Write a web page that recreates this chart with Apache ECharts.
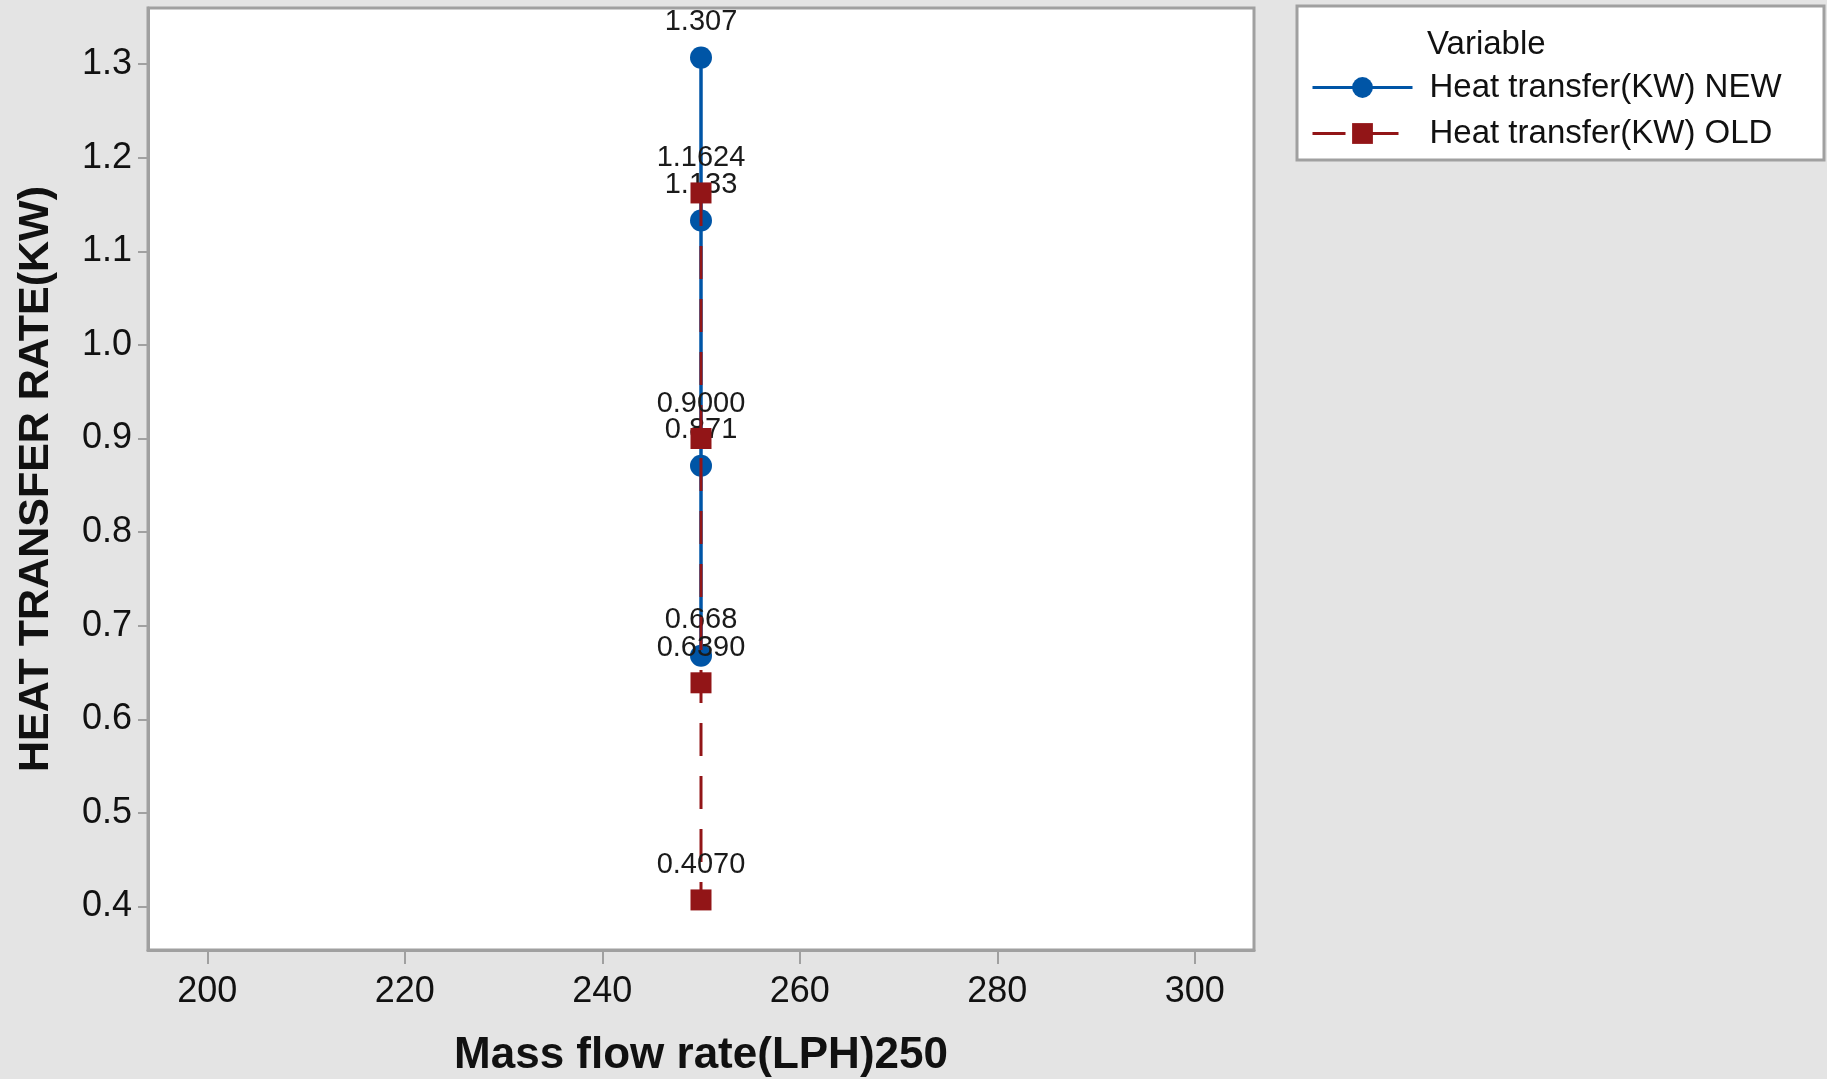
<!DOCTYPE html>
<html>
<head>
<meta charset="utf-8">
<script src="https://cdn.jsdelivr.net/npm/echarts@6/dist/echarts.min.js"></script>
<style>
  html, body { margin: 0; padding: 0; background: #e4e4e4; }
  #chart { width: 1827px; height: 1079px; }
</style>
</head>
<body>
<div id="chart"></div>
<script>
// Mass flow rate at which both runs were measured (LPH)
const flowRate = 250;
// Heat transfer rate, new setup (kW)
const newValues = [1.307, 1.133, 0.871, 0.668];
// Heat transfer rate, old setup (kW)
const oldValues = [1.1624, 0.9000, 0.6390, 0.4070];
// Axis tick positions
const xTicks = [200, 220, 240, 260, 280, 300];
const yTicks = [0.4, 0.5, 0.6, 0.7, 0.8, 0.9, 1.0, 1.1, 1.2, 1.3];
const seriesNames = ['Heat transfer(KW) NEW', 'Heat transfer(KW) OLD'];

const BLUE = '#0055a6';
const RED = '#921517';
const AXIS_GRAY = '#a0a0a0';
const FONT = 'Liberation Sans, Arial, sans-serif';

const chart = echarts.init(document.getElementById('chart'), null, { renderer: 'canvas' });

const labelBase = {
  show: true,
  position: 'top',
  distance: 10,
  color: '#1a1a1a',
  fontFamily: FONT,
  fontSize: 29
};

chart.setOption({
  backgroundColor: '#e4e4e4',
  animation: false,
  grid: {
    left: 148, top: 8, width: 1106, height: 942,
    outerBoundsMode: 'none',
    containLabel: false,
    show: true,
    backgroundColor: '#ffffff',
    borderColor: AXIS_GRAY,
    borderWidth: 3
  },
  graphic: [
    {
      type: 'rect',
      shape: { x: 1297, y: 6, width: 527, height: 154 },
      style: { fill: '#ffffff', stroke: AXIS_GRAY, lineWidth: 3 },
      z: 0
    },
    {
      type: 'text',
      left: 1427, top: 28,
      style: { text: 'Variable', fill: '#111', font: '33px ' + FONT },
      z: 1
    }
  ],
  legend: {
    orient: 'vertical',
    left: 1311, top: 71,
    padding: 0,
    itemWidth: 100,
    itemHeight: 26,
    itemGap: 13,
    data: seriesNames,
    lineStyle: { width: 3 },
    textStyle: { color: '#111', fontFamily: FONT, fontSize: 33, padding: [0, 0, 0, 12] }
  },
  xAxis: {
    type: 'value',
    min: 194, max: 306,
    name: 'Mass flow rate(LPH)250',
    nameLocation: 'middle',
    nameGap: 84,
    nameTextStyle: { fontFamily: FONT, fontSize: 44, fontWeight: 'bold', color: '#111' },
    axisLine: { show: true, onZero: false, lineStyle: { color: AXIS_GRAY, width: 3 } },
    axisTick: { show: true, length: 14, customValues: xTicks, lineStyle: { color: AXIS_GRAY, width: 2 } },
    axisLabel: {
      customValues: xTicks,
      margin: 24,
      color: '#111', fontFamily: FONT, fontSize: 36
    },
    splitLine: { show: false }
  },
  yAxis: {
    type: 'value',
    min: 0.3535, max: 1.36,
    name: 'HEAT TRANSFER RATE(KW)',
    nameLocation: 'middle',
    nameGap: 90,
    nameTextStyle: { fontFamily: FONT, fontSize: 43, fontWeight: 'bold', color: '#111' },
    axisLine: { show: true, onZero: false, lineStyle: { color: AXIS_GRAY, width: 3 } },
    axisTick: { show: true, length: 10, customValues: yTicks, lineStyle: { color: AXIS_GRAY, width: 2 } },
    axisLabel: {
      customValues: yTicks,
      margin: 16,
      color: '#111', fontFamily: FONT, fontSize: 36,
      formatter: v => Number(v).toFixed(1)
    },
    splitLine: { show: false }
  },
  series: [
    {
      name: seriesNames[0],
      type: 'line',
      data: newValues.map(v => [flowRate, v]),
      symbol: 'circle',
      symbolSize: 22,
      itemStyle: { color: BLUE },
      lineStyle: { color: BLUE, width: 3.5 },
      label: Object.assign({}, labelBase, { formatter: p => p.value[1].toFixed(3) }),
      z: 2
    },
    {
      name: seriesNames[1],
      type: 'line',
      data: oldValues.map(v => [flowRate, v]),
      symbol: 'rect',
      symbolSize: 21,
      itemStyle: { color: RED, borderRadius: 2 },
      lineStyle: { color: RED, width: 3, type: [33, 20] },
      label: Object.assign({}, labelBase, { formatter: p => p.value[1].toFixed(4) }),
      z: 3
    }
  ]
});
</script>
</body>
</html>
